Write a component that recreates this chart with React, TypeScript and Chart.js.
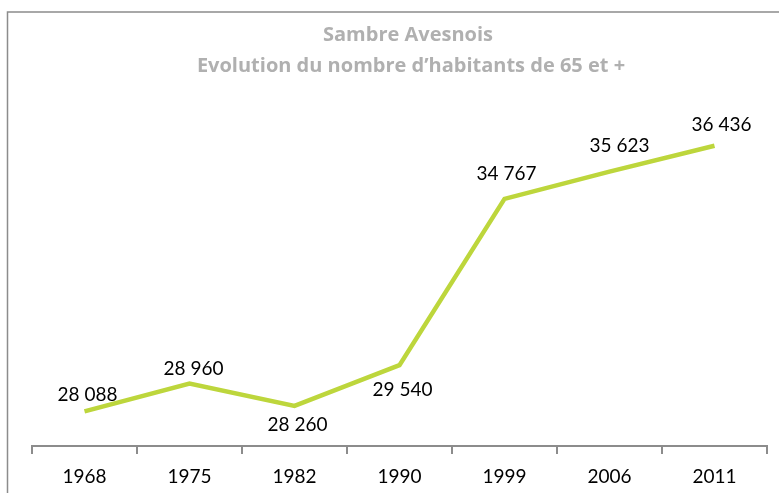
import React, { useEffect, useRef } from 'react';
import { Chart, registerables } from 'chart.js';

Chart.register(...registerables);

const years = ['1968', '1975', '1982', '1990', '1999', '2006', '2011'];
const habitants = [28088, 28960, 28260, 29540, 34767, 35623, 36436];
const titleLines = ['Sambre Avesnois', 'Evolution du nombre d\u2019habitants de 65 et +'];
const labelDx = [3, 4, 3, 3, 2, 10, 7];
const labelDy = [-17, -15, 19, 25, -25, -26, -21];

const fmt = (v: number) => String(v).replace(/\B(?=(\d{3})+(?!\d))/g, ' ');

const FONT = 'Lato, "Open Sans", sans-serif';
const TITLE_FONT = '"Open Sans", Lato, sans-serif';

const decoPlugin = {
  id: 'deco',
  beforeDraw(chart: any) {
    const ctx = chart.ctx;
    ctx.save();
    ctx.strokeStyle = '#8c8c8c';
    ctx.lineWidth = 1.5;
    ctx.beginPath();
    ctx.moveTo(7.5, chart.height + 2);
    ctx.lineTo(7.5, 12);
    ctx.lineTo(chart.width + 2, 12);
    ctx.stroke();
    ctx.restore();
  },
  afterDraw(chart: any) {
    const ctx = chart.ctx;
    ctx.save();
    ctx.fillStyle = '#b0b0b0';
    ctx.font = `bold 20px ${TITLE_FONT}`;
    ctx.textAlign = 'center';
    ctx.textBaseline = 'middle';
    ctx.fillText(titleLines[0], 408, 35);
    ctx.fillText(titleLines[1], 411, 66);

    const meta = chart.getDatasetMeta(0);
    ctx.fillStyle = '#000';
    ctx.font = `19px ${FONT}`;
    meta.data.forEach((pt: any, i: number) => {
      ctx.fillText(fmt(habitants[i]), pt.x + labelDx[i], pt.y + labelDy[i]);
    });
    ctx.restore();
  },
};

export default function App() {
  const ref = useRef<HTMLCanvasElement | null>(null);
  useEffect(() => {
    document.body.style.margin = '0';
    const chart = new Chart(ref.current as HTMLCanvasElement, {
      type: 'line',
      data: {
        labels: years,
        datasets: [
          {
            data: habitants,
            borderColor: '#bdd63c',
            borderWidth: 4.5,
            pointRadius: 0,
            pointHoverRadius: 0,
            tension: 0,
            fill: false,
          },
        ],
      },
      options: {
        responsive: false,
        animation: false,
        events: [],
        layout: { padding: { top: 96, left: 32, right: 12, bottom: 0 } },
        plugins: {
          legend: { display: false },
          title: { display: false },
          tooltip: { enabled: false },
        },
        scales: {
          x: {
            type: 'category',
            offset: true,
            afterFit: (s: any) => {
              s.height = 47;
            },
            grid: {
              offset: true,
              drawOnChartArea: false,
              drawTicks: true,
              tickLength: 8,
              color: '#8c8c8c',
              lineWidth: 2,
            },
            border: { display: true, color: '#8c8c8c', width: 2 },
            ticks: {
              color: '#000',
              font: { family: FONT, size: 19 },
              padding: 11,
              maxRotation: 0,
              autoSkip: false,
            },
          },
          y: {
            display: false,
            min: 27000,
            max: 38000,
          },
        },
      },
      plugins: [decoPlugin],
    });
    return () => chart.destroy();
  }, []);
  return (
    <div style={{ position: 'absolute', left: 0, top: 0, width: 779, height: 493 }}>
      <canvas ref={ref} width={779} height={493} />
    </div>
  );
}
